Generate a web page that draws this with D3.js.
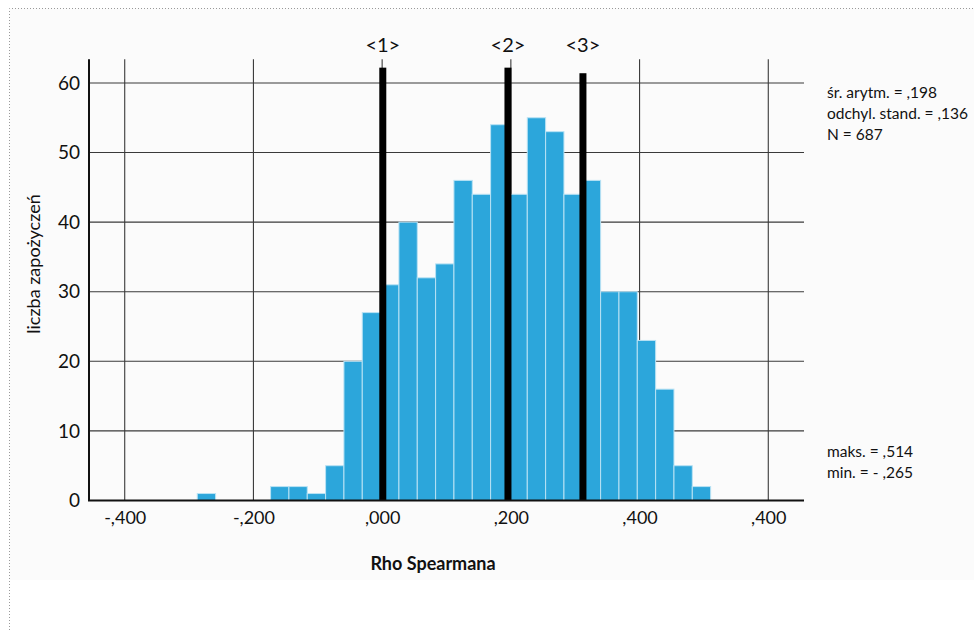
<!DOCTYPE html>
<html>
<head>
<meta charset="utf-8">
<script src="https://cdn.jsdelivr.net/npm/d3@7"></script>
<style>
  body { margin: 0; background: #fff; }
  text { font-family: Lato, "Open Sans", sans-serif; fill: #111; }
</style>
</head>
<body>
<svg id="chart" width="974" height="630"></svg>
<script>
// histogram counts, one per bin (28 bins from binStart)
let binStart = -0.2873;
let binWidth = 0.02849;
let counts = [1, 0, 0, 0, 2, 2, 1, 5, 20, 27, 31, 40, 32, 34, 46, 44, 54, 44, 55, 53, 44, 46, 30, 30, 23, 16, 5, 2];

let xTicks = [-0.4, -0.2, 0, 0.2, 0.4, 0.6];
let xTickLabels = ['-,400', '-,200', ',000', ',200', ',400', ',400'];
let yTicks = [0, 10, 20, 30, 40, 50, 60];

// the three marked values
let markerLabels = ['<1>', '<2>', '<3>'];
let markerValues = [0.001, 0.1955, 0.312];
let markerTops = [62.2, 62.2, 61.4];

let statsTop = ['śr. arytm. = ,198', 'odchyl. stand. = ,136', 'N = 687'];
let statsBottom = ['maks. = ,514', 'min. = - ,265'];

let margin = { top: 59.3, right: 170, bottom: 129.5, left: 89 };
let width = 974, height = 630;

let svg = d3.select('#chart');

// faint panel + dotted frame
svg.append('rect')
  .attr('x', 9.5).attr('y', 8.5)
  .attr('width', width - 9.5).attr('height', 580 - 8.5)
  .attr('fill', '#fbfbfb');
svg.append('path')
  .attr('d', `M9.5,${height} V8.5 H${width}`)
  .attr('fill', 'none')
  .attr('stroke', '#9a9a9a')
  .attr('stroke-dasharray', '1,2');

let x = d3.scaleLinear()
  .domain([-0.4555, 0.6555])
  .range([margin.left, width - margin.right]);
let y = d3.scaleLinear()
  .domain([0, 63.4])
  .range([height - margin.bottom, margin.top]);

// grid (the vertical ones also show as the little ticks above the markers)
svg.append('g')
  .selectAll('line.h')
  .data(yTicks.slice(1))
  .enter().append('line')
  .attr('x1', x.range()[0]).attr('x2', x.range()[1])
  .attr('y1', d => y(d)).attr('y2', d => y(d))
  .attr('stroke', '#3a3a3a').attr('stroke-width', 1.1);
svg.append('g')
  .selectAll('line.v')
  .data(xTicks)
  .enter().append('line')
  .attr('x1', d => x(d)).attr('x2', d => x(d))
  .attr('y1', y.range()[1]).attr('y2', y(0))
  .attr('stroke', '#3a3a3a').attr('stroke-width', 1.1);

let bins = counts.map((c, i) => ({
  x0: binStart + i * binWidth,
  x1: binStart + (i + 1) * binWidth,
  count: c
}));

svg.append('g')
  .selectAll('rect')
  .data(bins.filter(d => d.count > 0))
  .enter().append('rect')
  .attr('x', d => x(d.x0))
  .attr('y', d => y(d.count))
  .attr('width', d => x(d.x1) - x(d.x0))
  .attr('height', d => y(0) - y(d.count))
  .attr('fill', '#2ca6db')
  .attr('stroke', '#b9e2f4')
  .attr('stroke-width', 1);

// marker lines on top of the bars
let markers = markerValues.map((v, i) => ({ v: v, top: markerTops[i], label: markerLabels[i] }));
let mg = svg.append('g');
mg.selectAll('rect')
  .data(markers)
  .enter().append('rect')
  .attr('x', d => x(d.v) - 3.5)
  .attr('y', d => y(d.top))
  .attr('width', 7)
  .attr('height', d => y(0) - y(d.top))
  .attr('fill', '#000');
mg.selectAll('text')
  .data(markers)
  .enter().append('text')
  .attr('x', d => x(d.v))
  .attr('y', 52)
  .attr('text-anchor', 'middle')
  .style('font-size', '20px')
  .text(d => d.label);

// axes
let xAxis = d3.axisBottom(x).tickValues(xTicks).tickSize(0).tickPadding(11)
  .tickFormat((d, i) => xTickLabels[i]);
let gx = svg.append('g')
  .attr('transform', `translate(0,${y(0)})`)
  .call(xAxis);
gx.select('.domain').remove();
gx.selectAll('text').style('font-size', '18px').attr('fill', '#111');

let yAxis = d3.axisLeft(y).tickValues(yTicks).tickSize(0).tickPadding(9);
let gy = svg.append('g')
  .attr('transform', `translate(${margin.left},0)`)
  .call(yAxis);
gy.select('.domain').remove();
gy.selectAll('text').style('font-size', '19px').attr('fill', '#111');

svg.append('path')
  .attr('d', `M${x.range()[0]},${y.range()[1]} V${y(0)} H${x.range()[1]}`)
  .attr('fill', 'none')
  .attr('stroke', '#111')
  .attr('stroke-width', 2);

svg.append('text')
  .attr('x', 433).attr('y', 570)
  .attr('text-anchor', 'middle')
  .style('font-size', '18px')
  .style('font-weight', 'bold')
  .text('Rho Spearmana');

svg.append('text')
  .attr('transform', 'translate(40,264) rotate(-90)')
  .attr('text-anchor', 'middle')
  .style('font-size', '18px')
  .text('liczba zapożyczeń');

svg.append('g')
  .selectAll('text')
  .data(statsTop)
  .enter().append('text')
  .attr('x', 827)
  .attr('y', (d, i) => 98 + i * 21)
  .style('font-size', '15.5px')
  .text(d => d);
svg.append('g')
  .selectAll('text')
  .data(statsBottom)
  .enter().append('text')
  .attr('x', 827)
  .attr('y', (d, i) => 457 + i * 21)
  .style('font-size', '15.5px')
  .text(d => d);
</script>
</body>
</html>
